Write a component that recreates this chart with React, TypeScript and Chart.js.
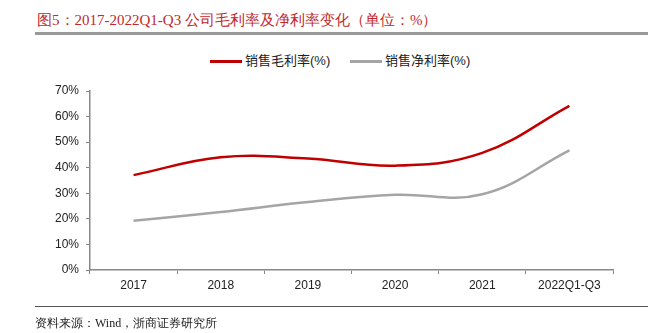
import React, { useEffect, useRef } from "react";
import { Chart, registerables } from "chart.js";
Chart.register(...registerables);

const categories = ["2017", "2018", "2019", "2020", "2021", "2022Q1-Q3"];
const grossMargin = [37.1, 44.1, 43.6, 40.8, 45.8, 64.2];
const netMargin = [19.3, 22.7, 26.6, 29.4, 29.6, 46.8];
const seriesNames = ["销售毛利率(%)", "销售净利率(%)"];
const seriesColors = ["#C00000", "#A5A5A5"];
const titleText = "图5：2017-2022Q1-Q3 公司毛利率及净利率变化（单位：%）";
const sourceText = "资料来源：Wind，浙商证券研究所";

export default function App() {
  const ref = useRef<HTMLCanvasElement | null>(null);
  useEffect(() => {
    if (!ref.current) return;
    const chart = new Chart(ref.current, {
      type: "line",
      data: {
        labels: categories,
        datasets: [
          {
            label: seriesNames[0],
            data: grossMargin,
            borderColor: seriesColors[0],
            backgroundColor: seriesColors[0],
            borderWidth: 2.5,
            pointRadius: 0,
            tension: 0.4,
          },
          {
            label: seriesNames[1],
            data: netMargin,
            borderColor: seriesColors[1],
            backgroundColor: seriesColors[1],
            borderWidth: 2.5,
            pointRadius: 0,
            tension: 0.4,
          },
        ],
      },
      options: {
        animation: false,
        responsive: false,
        maintainAspectRatio: false,
        layout: { padding: { top: 91, left: 40, right: 59, bottom: 33 } },
        plugins: { legend: { display: false }, tooltip: { enabled: false }, title: { display: false } },
        scales: {
          x: {
            offset: true,
            grid: { offset: true, drawOnChartArea: false, drawTicks: true, tickLength: 4, color: "#888", lineWidth: 1 },
            border: { display: true, color: "#888", width: 1.5 },
            ticks: { color: "#222", padding: 4, font: { family: "'Liberation Sans', Arial, sans-serif", size: 12 }, maxRotation: 0, autoSkip: false },
            afterFit: (s: any) => { s.height = 30; },
          },
          y: {
            min: 0,
            max: 70,
            ticks: {
              stepSize: 10,
              color: "#222",
              padding: 7,
              font: { family: "'Liberation Sans', Arial, sans-serif", size: 12 },
              callback: (v: any) => v + "%",
            },
            grid: { drawOnChartArea: false, drawTicks: true, tickLength: 4, color: "#888", lineWidth: 1 },
            border: { display: true, color: "#888", width: 1.5 },
            afterFit: (s: any) => { s.width = 50; },
          },
        },
      },
    });
    return () => chart.destroy();
  }, []);

  const legendText: React.CSSProperties = {
    position: "absolute",
    top: 52,
    fontFamily: "'Liberation Sans', 'Noto Sans CJK SC', sans-serif",
    fontSize: 13,
    color: "#222",
    lineHeight: "18px",
    whiteSpace: "nowrap",
  };
  const legendLine = (left: number, color: string): React.CSSProperties => ({
    position: "absolute",
    left,
    top: 60,
    width: 32,
    height: 3,
    background: color,
  });

  return (
    <div style={{ position: "fixed", left: 0, top: 0, width: 672, height: 333, background: "#fff", overflow: "hidden" }}>
      <div
        style={{
          position: "absolute",
          left: 37,
          top: 10,
          fontFamily: "'Liberation Serif', 'Times New Roman', serif",
          fontSize: 15,
          color: "#C0282D",
          lineHeight: "20px",
          whiteSpace: "pre",
        }}
      >
        {titleText}
      </div>
      <div style={{ position: "absolute", left: 35, top: 32, width: 613, height: 3, background: "#999" }} />
      <div style={legendLine(210, seriesColors[0])} />
      <div style={{ ...legendText, left: 245 }}>{seriesNames[0]}</div>
      <div style={legendLine(350, seriesColors[1])} />
      <div style={{ ...legendText, left: 385 }}>{seriesNames[1]}</div>
      <canvas ref={ref} width={672} height={333} style={{ position: "absolute", left: 0, top: 0, width: 672, height: 333 }} />
      <div style={{ position: "absolute", left: 35, top: 306, width: 613, height: 1, background: "#555" }} />
      <div
        style={{
          position: "absolute",
          left: 35,
          top: 314,
          fontFamily: "'Liberation Serif', 'Times New Roman', serif",
          fontSize: 12,
          color: "#222",
          lineHeight: "18px",
          whiteSpace: "nowrap",
        }}
      >
        {sourceText}
      </div>
    </div>
  );
}
